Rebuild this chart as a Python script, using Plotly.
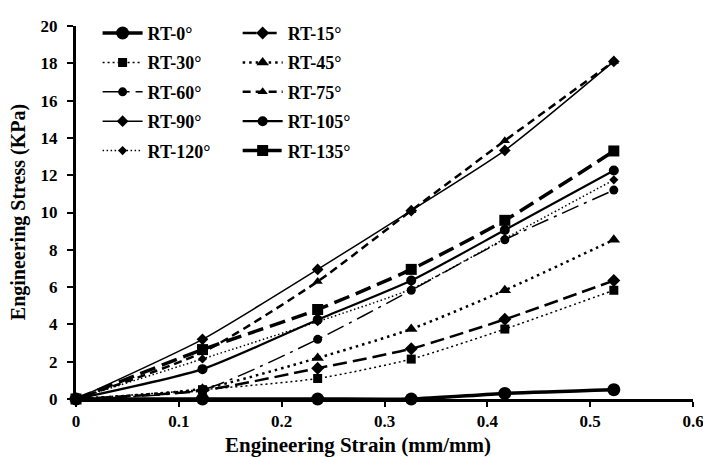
import plotly.graph_objects as go

strain = [0, 0.123, 0.235, 0.326, 0.417, 0.523]

names = ["RT-0°", "RT-15°", "RT-30°", "RT-45°", "RT-60°",
         "RT-75°", "RT-90°", "RT-105°", "RT-120°", "RT-135°"]

rt0 = [0, 0, 0, 0, 0.3, 0.5]
rt15 = [0, 0.45, 1.65, 2.7, 4.27, 6.35]
rt30 = [0, 0.5, 1.1, 2.14, 3.75, 5.83]
rt45 = [0, 0.55, 2.2, 3.75, 5.83, 8.54]
rt60 = [0, 0.5, 3.2, 5.83, 8.54, 11.2]
rt75 = [0, 2.5, 6.3, 10.1, 13.85, 18.1]
rt90 = [0, 3.2, 6.95, 10.1, 13.33, 18.1]
rt105 = [0, 1.6, 4.25, 6.35, 9.06, 12.25]
rt120 = [0, 2.15, 4.15, 5.9, 8.6, 11.75]
rt135 = [0, 2.65, 4.8, 6.95, 9.58, 13.3]

series = [rt0, rt15, rt30, rt45, rt60, rt75, rt90, rt105, rt120, rt135]

styles = [
    dict(dash="solid", width=3.5, symbol="circle", size=13),
    dict(dash="14px,6px", width=2.5, symbol="diamond", size=10),
    dict(dash="2px,3px", width=1.5, symbol="square", size=9),
    dict(dash="2.5px,4px", width=2.5, symbol="triangle-up", size=11),
    dict(dash="18px,6px,3px,6px", width=1.5, symbol="circle", size=9),
    dict(dash="8px,5px", width=2.5, symbol="triangle-up", size=9),
    dict(dash="solid", width=1.5, symbol="diamond", size=9),
    dict(dash="solid", width=2.2, symbol="circle", size=10),
    dict(dash="1.5px,2.5px", width=1.5, symbol="diamond", size=7),
    dict(dash="16px,7px", width=3.5, symbol="square", size=11),
]

fig = go.Figure()
for i, (nm, ys, st) in enumerate(zip(names, series, styles)):
    fig.add_trace(go.Scatter(
        x=strain, y=ys, name=nm, mode="lines+markers",
        line=dict(color="black", width=st["width"], dash=st["dash"], shape="spline", smoothing=0.6),
        marker=dict(color="black", symbol=st["symbol"], size=st["size"]),
        cliponaxis=False,
        legend="legend" if i % 2 == 0 else "legend2",
        legendgroup=nm,
    ))

font_family = "Liberation Serif, Times New Roman, serif"
leg_common = dict(
    font=dict(family=font_family, size=18, color="black", weight="bold"),
    bgcolor="rgba(0,0,0,0)", yanchor="top", xanchor="left",
    tracegroupgap=3, itemwidth=40,
)

fig.update_layout(
    width=703, height=449,
    margin=dict(l=68, r=11, t=7, b=58),
    plot_bgcolor="white", paper_bgcolor="white",
    font=dict(family=font_family, color="black"),
    showlegend=True,
    legend=dict(x=0.035, y=1.03, **leg_common),
    legend2=dict(x=0.262, y=1.03, **leg_common),
    xaxis=dict(
        range=[0, 0.6], dtick=0.1, tick0=0, showgrid=False, zeroline=False,
        showline=True, linecolor="black", linewidth=3,
        ticks="outside", ticklen=5, tickwidth=2, tickcolor="black",
        tickfont=dict(family=font_family, size=17, color="black", weight="bold"),
    ),
    yaxis=dict(
        range=[0, 20], dtick=2, tick0=0, showgrid=False, zeroline=False,
        showline=True, linecolor="black", linewidth=3,
        ticks="outside", ticklen=6, tickwidth=2, tickcolor="black",
        ticklabelstandoff=6,
        tickfont=dict(family=font_family, size=17, color="black", weight="bold"),
    ),
    annotations=[
        dict(text="<b>Engineering Strain (mm/mm)</b>", xref="paper", yref="paper",
             x=(361 - 76) / 624, y=(399 - 432) / 384, xanchor="center", yanchor="top",
             showarrow=False, font=dict(family=font_family, size=21, color="black")),
        dict(text="<b>Engineering Stress (KPa)</b>", xref="paper", yref="paper",
             x=(18 - 76) / 624, y=0.5, xanchor="center", yanchor="middle", textangle=-90,
             showarrow=False, font=dict(family=font_family, size=20, color="black")),
    ],
)

fig.write_html("out.html")
